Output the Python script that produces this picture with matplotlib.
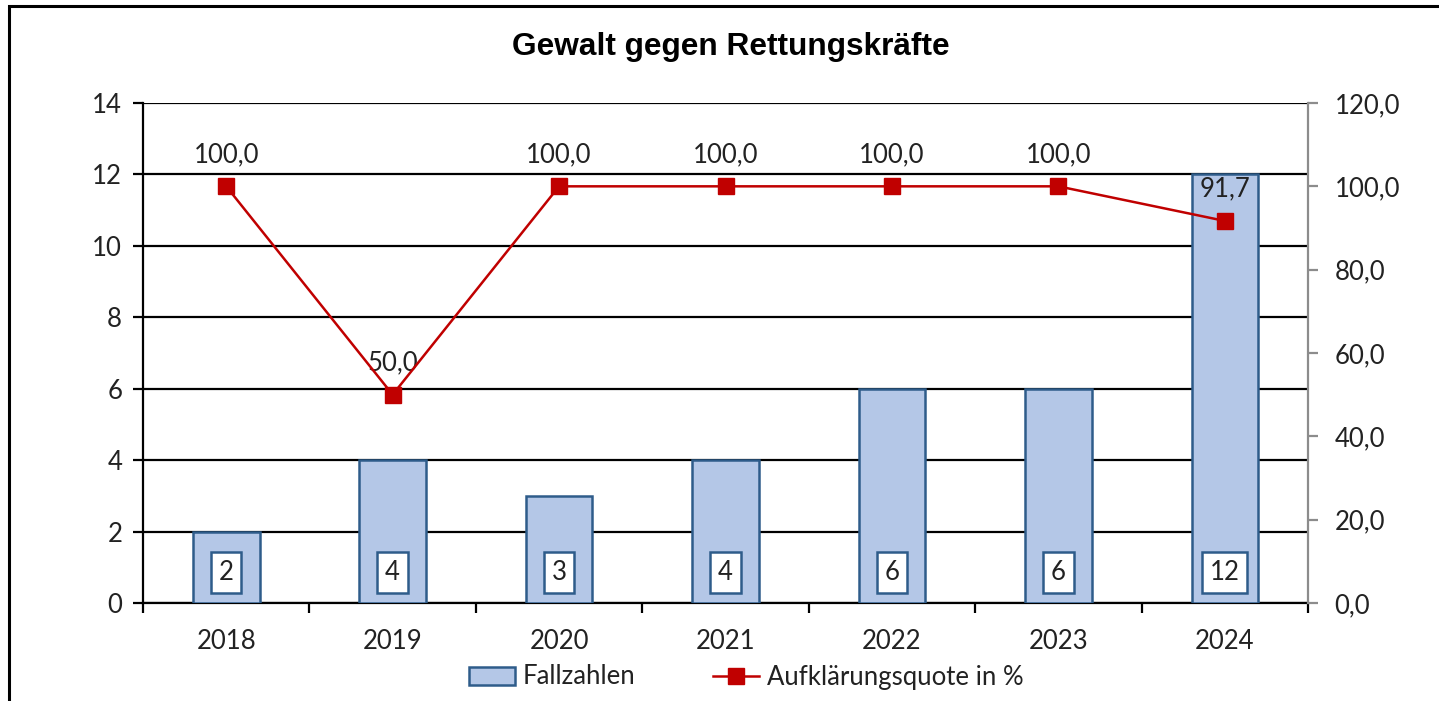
import numpy as np
import matplotlib.pyplot as plt
from matplotlib.patches import Rectangle
from matplotlib.lines import Line2D
from matplotlib.ticker import FuncFormatter

years = ["2018", "2019", "2020", "2021", "2022", "2023", "2024"]
fallzahlen = [2, 4, 3, 4, 6, 6, 12]
quote = [100.0, 50.0, 100.0, 100.0, 100.0, 100.0, 91.7]

plt.rcParams['font.family'] = ['Lato', 'DejaVu Sans']

W, H = 1439, 701
fig = plt.figure(figsize=(W / 100, H / 100), dpi=100)

# outer chart frame (right and bottom edges are cut off in the picture)
fig.patches.append(Rectangle((9 / W, -0.05), 1.2, 1 - 6 / H + 0.05, transform=fig.transFigure,
                             fill=False, edgecolor='black', linewidth=2.2, zorder=0))

ax = fig.add_axes([143 / W, 1 - 603 / H, (1308 - 143) / W, 500 / H])
ax2 = ax.twinx()

x = np.arange(len(years))
ax.bar(x, fallzahlen, width=0.4, color='#B4C7E7', edgecolor='#2E5C8A', linewidth=1.8, zorder=3)

ax.set_xlim(-0.5, len(years) - 0.5)
ax.set_ylim(0, 14)
ax.set_yticks(np.arange(0, 15, 2))
ax.grid(axis='y', color='black', linewidth=1.6, zorder=0)
ax.set_axisbelow(True)

fs = 18.5
for xi, v in zip(x, fallzahlen):
    ax.annotate(str(v), (xi, 0), xytext=(0, 22), textcoords='offset points', ha='center', va='center',
                fontsize=fs, color='#222222', zorder=5,
                bbox=dict(boxstyle='square,pad=0.3', facecolor='white', edgecolor='#2E5C8A', linewidth=1.8))

ax2.plot(x, quote, color='#C00000', linewidth=1.8, marker='s', markersize=11, zorder=4)
ax2.set_ylim(0, 120)
ax2.set_yticks(np.arange(0, 121, 20))
ax2.yaxis.set_major_formatter(FuncFormatter(lambda v, p: f"{v:.1f}".replace('.', ',')))
for xi, v in zip(x, quote):
    ax2.annotate(f"{v:.1f}".replace('.', ','), (xi, v), xytext=(0, 23), textcoords='offset points',
                 ha='center', va='center', fontsize=fs, color='#222222')

ax.set_xticks(x)
ax.set_xticklabels(years)
ax.set_xticks(np.arange(-0.5, len(years), 1), minor=True)
ax.tick_params(axis='x', which='major', length=0, pad=19, labelsize=fs, labelcolor='#222222')
ax.tick_params(axis='x', which='minor', length=7, width=1.6, direction='out', color='black')
ax.tick_params(axis='y', length=7, width=1.6, labelsize=fs, labelcolor='#222222', pad=8)
ax2.tick_params(axis='y', length=7, width=1.6, color='#8C8C8C', labelsize=fs, labelcolor='#222222', pad=12)

for s in ['top', 'right']:
    ax.spines[s].set_visible(False)
ax.spines['left'].set_linewidth(1.6)
ax.spines['bottom'].set_linewidth(1.6)
for s in ['top', 'left', 'bottom']:
    ax2.spines[s].set_visible(False)
ax2.spines['right'].set_color('#8C8C8C')
ax2.spines['right'].set_linewidth(1.6)

fig.text(731 / W, 1 - 47 / H, "Gewalt gegen Rettungskräfte", ha='center', va='center',
         fontsize=22.8, fontweight='bold', family='Liberation Sans')

handles = [Rectangle((0, 0), 1, 1, facecolor='#B4C7E7', edgecolor='#2E5C8A', linewidth=1.8),
           Line2D([], [], color='#C00000', linewidth=1.8, marker='s', markersize=11)]
fig.legend(handles, ["Fallzahlen", "Aufklärungsquote in %"], loc='center', bbox_to_anchor=(746 / W, 1 - 677 / H),
           ncol=2, frameon=False, fontsize=fs, columnspacing=3.0, handlelength=1.8, handletextpad=0.3,
           labelcolor='#222222')

fig.savefig("out.png", dpi=100)
